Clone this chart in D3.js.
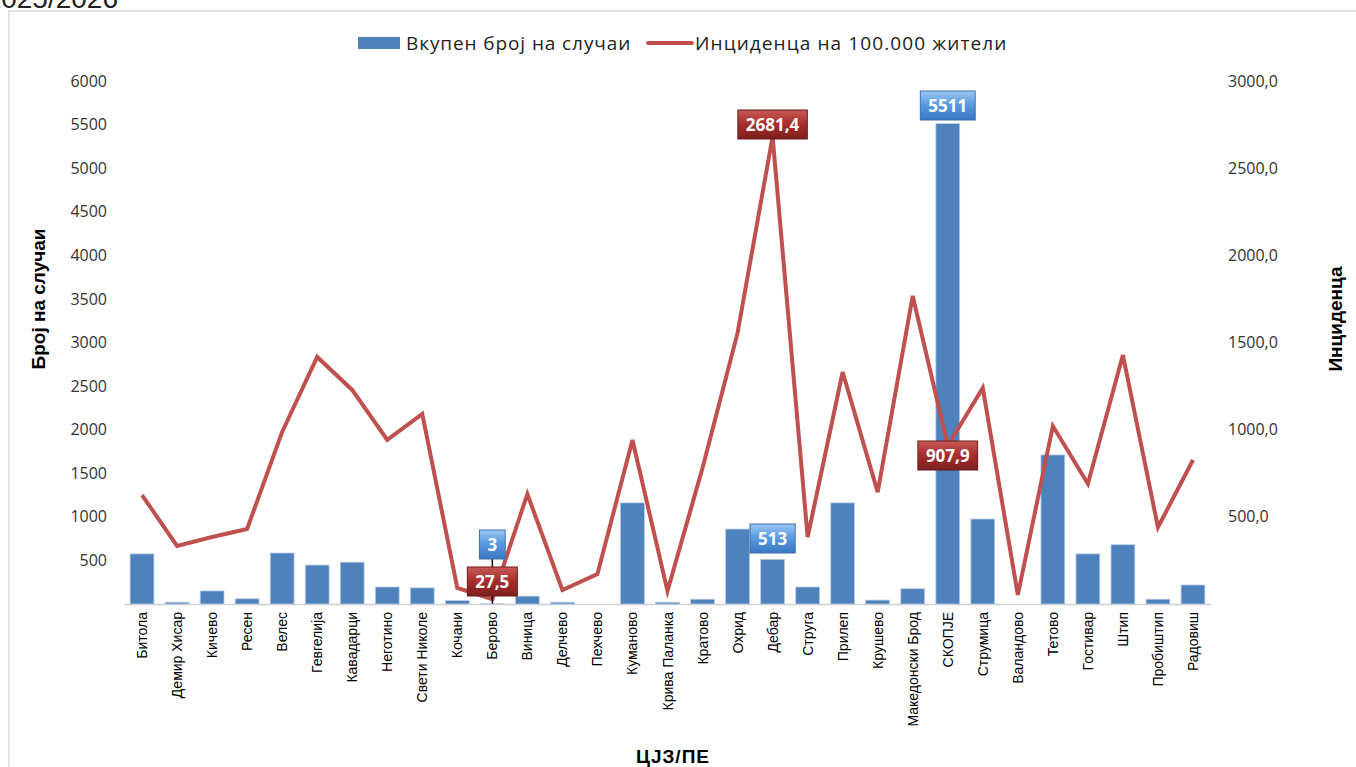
<!DOCTYPE html>
<html><head><meta charset="utf-8">
<script src="https://cdn.jsdelivr.net/npm/d3@7"></script>
<style>body{margin:0;background:#fff}svg{display:block}</style>
</head><body>
<script>
const categories = ["Битола","Демир Хисар","Кичево","Ресен","Велес","Гевгелија","Кавадарци","Неготино","Свети Николе","Кочани","Берово","Виница","Делчево","Пехчево","Куманово","Крива Паланка","Кратово","Охрид","Дебар","Струга","Прилеп","Крушево","Македонски Брод","СКОПЈЕ","Струмица","Валандово","Тетово","Гостивар","Штип","Пробиштип","Радовиш"];
const cases = [575,20,150,60,585,447,480,195,185,40,3,90,20,0,1160,20,55,860,513,195,1160,45,175,5511,975,0,1710,575,680,55,218];
const incidence = [625,333,384,430,987,1417,1228,941,1090,92,27.5,631,80,172,941,75,780,1555,2681.4,384,1331,642,1767,907.9,1239,52,1021,690,1428,440,826];
const leftTicks = [500,1000,1500,2000,2500,3000,3500,4000,4500,5000,5500,6000];
const rightTicks = [500,1000,1500,2000,2500,3000];
const seriesNames = ["Вкупен број на случаи","Инциденца на 100.000 жители"];

const W=1356,H=767;
const svg=d3.select("body").append("svg").attr("width",W).attr("height",H);
const defs=svg.append("defs");
const gb=defs.append("linearGradient").attr("id","gBlue").attr("x1",0).attr("y1",0).attr("x2",0).attr("y2",1);
gb.append("stop").attr("offset","0").attr("stop-color","#9cc8f4");
gb.append("stop").attr("offset","0.45").attr("stop-color","#5b9be0");
gb.append("stop").attr("offset","1").attr("stop-color","#3a78c4");
const gr=defs.append("linearGradient").attr("id","gRed").attr("x1",0).attr("y1",0).attr("x2",0).attr("y2",1);
gr.append("stop").attr("offset","0").attr("stop-color","#c85a58");
gr.append("stop").attr("offset","0.45").attr("stop-color","#a8302e");
gr.append("stop").attr("offset","1").attr("stop-color","#7e1e1d");

// title fragment (cut off by the top edge, as in the reference)
svg.append("text").attr("x",118).attr("y",8).attr("text-anchor","end")
  .attr("font-family","Liberation Sans, Arial, sans-serif").attr("font-size",28).attr("fill","#222").text("2025/2026");
// frame
svg.append("rect").attr("x",9).attr("y",11).attr("width",1380).attr("height",800)
  .attr("fill","none").attr("stroke","#d9d9d9").attr("stroke-width",1.5);

const x=d3.scaleBand().domain(categories).range([124.5,1210.5]).paddingInner(0.32).paddingOuter(0.16);
const yL=d3.scaleLinear().domain([0,6000]).range([604,81]);
const yR=d3.scaleLinear().domain([0,3000]).range([604,81]);
const cx=c=>x(c)+x.bandwidth()/2;

// baseline
svg.append("line").attr("x1",124).attr("x2",1211).attr("y1",604.5).attr("y2",604.5).attr("stroke","#d0d0d0").attr("stroke-width",1.5);

// left axis
const axL=svg.append("g").attr("transform","translate(124,0)")
  .call(d3.axisLeft(yL).tickValues(leftTicks).tickSize(0).tickPadding(17).tickFormat(d3.format("d")));
axL.select(".domain").remove();
axL.selectAll("text").attr("font-family","Open Sans, sans-serif").attr("font-size",16).attr("fill","#333");
// right axis
const axR=svg.append("g").attr("transform","translate(1211,0)")
  .call(d3.axisRight(yR).tickValues(rightTicks).tickSize(0).tickPadding(17).tickFormat(d=>d3.format(".1f")(d).replace(".",",")));
axR.select(".domain").remove();
axR.selectAll("text").attr("font-family","Open Sans, sans-serif").attr("font-size",16).attr("fill","#333");

// bars
svg.append("g").selectAll("rect").data(categories).join("rect")
  .attr("x",c=>x(c)).attr("width",x.bandwidth())
  .attr("y",(c,i)=>yL(cases[i])).attr("height",(c,i)=>yL(0)-yL(cases[i]))
  .attr("fill","#4f81bd").attr("stroke","#b8cce4").attr("stroke-width",0.8);

// line
const line=d3.line().x((d,i)=>cx(categories[i])).y(d=>yR(d));
svg.append("path").datum(incidence).attr("d",line).attr("fill","none")
  .attr("stroke","#c0504d").attr("stroke-width",4).attr("stroke-linejoin","miter");

// x labels
const xa=svg.append("g").attr("transform","translate(0,604)")
  .call(d3.axisBottom(x).tickSize(0).tickPadding(0));
xa.select(".domain").remove();
xa.selectAll("text").attr("font-family","Liberation Sans, Arial, sans-serif").attr("font-size",14).attr("fill","#000")
  .attr("text-anchor","end").attr("dy",0)
  .attr("transform","translate(5,8) rotate(-90)");

// axis titles
svg.append("text").attr("transform","translate(45,299) rotate(-90)").attr("text-anchor","middle")
  .attr("font-family","Liberation Sans, Arial, sans-serif").attr("font-weight","bold").attr("font-size",19).text("Број на случаи");
svg.append("text").attr("transform","translate(1342,319) rotate(-90)").attr("text-anchor","middle")
  .attr("font-family","Liberation Sans, Arial, sans-serif").attr("font-weight","bold").attr("font-size",19).text("Инциденца");
svg.append("text").attr("x",673).attr("y",763).attr("text-anchor","middle")
  .attr("font-family","Liberation Sans, Arial, sans-serif").attr("font-weight","bold").attr("font-size",19).attr("letter-spacing",1).text("ЦЈЗ/ПЕ");

// legend
const lg=svg.append("g");
lg.append("rect").attr("x",358).attr("y",37).attr("width",42).attr("height",12).attr("fill","#4f81bd");
lg.append("text").attr("x",406).attr("y",50).attr("font-family","Open Sans, sans-serif").attr("font-size",19).attr("letter-spacing",0.9).attr("fill","#222").text(seriesNames[0]);
lg.append("line").attr("x1",648).attr("x2",692).attr("y1",43).attr("y2",43).attr("stroke","#c0504d").attr("stroke-width",4).attr("stroke-linecap","round");
lg.append("text").attr("x",695).attr("y",50).attr("font-family","Open Sans, sans-serif").attr("font-size",19).attr("letter-spacing",1.1).attr("fill","#222").text(seriesNames[1]);

// callouts
function fmtInc(v){return d3.format(".1f")(v).replace(".",",");}
const callouts=[
  {s:"bar",c:"Берово",top:530,lead:true},
  {s:"line",c:"Берово",top:567,lead:true},
  {s:"line",c:"Дебар",top:110},
  {s:"bar",c:"СКОПЈЕ",top:91},
  {s:"bar",c:"Дебар",top:524},
  {s:"line",c:"СКОПЈЕ",top:441},
];
const cg=svg.append("g");
callouts.forEach(o=>{
  const i=categories.indexOf(o.c);
  const txt=o.s==="bar"?String(cases[i]):fmtInc(incidence[i]);
  const px=cx(o.c);
  const py=o.s==="bar"?yL(cases[i]):yR(incidence[i]);
  const h=29;
  const t=cg.append("text").attr("font-family","Open Sans, sans-serif").attr("font-weight","bold").attr("font-size",17).text(txt);
  const tw=t.node().getComputedTextLength();
  const w=tw+16;
  if(o.lead){cg.insert("line","text").attr("x1",px).attr("x2",px).attr("y1",o.top+h).attr("y2",py).attr("stroke","#111").attr("stroke-width",1.5);}
  cg.insert("rect","text").attr("x",px-w/2).attr("y",o.top).attr("width",w).attr("height",h)
    .attr("fill",o.s==="bar"?"url(#gBlue)":"url(#gRed)")
    .attr("stroke",o.s==="bar"?"#3d6fae":"#6b1a19").attr("stroke-width",1);
  t.attr("x",px).attr("y",o.top+h/2+6).attr("text-anchor","middle").attr("fill","#fff");
  cg.node().appendChild(t.node());
});
</script>
</body></html>
